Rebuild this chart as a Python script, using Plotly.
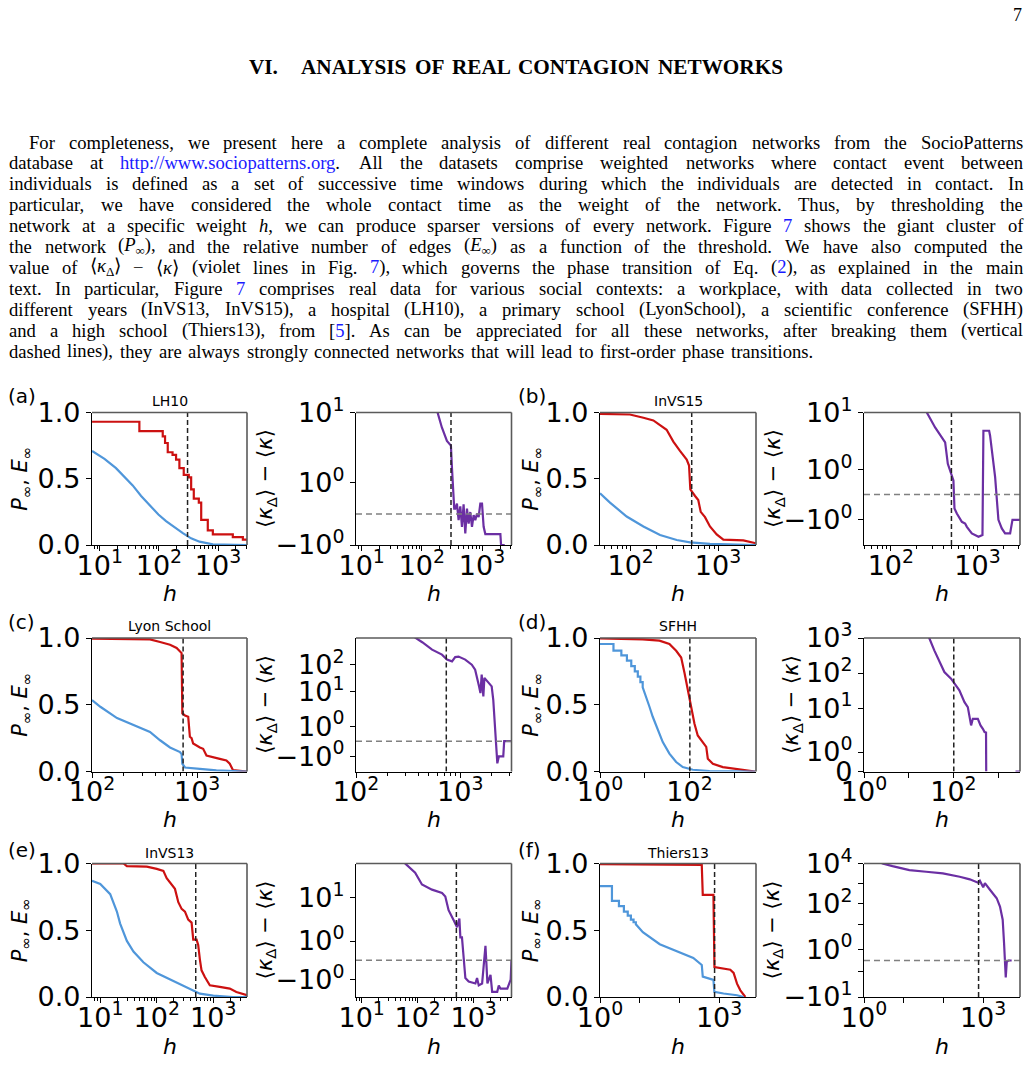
import re
import numpy as np
import plotly.graph_objects as go

FIG_W, FIG_H = 1030, 1089

# ---------------- data ----------------
# Each dataset: P_inf (red), E_inf (blue), <k_Delta>-<k> (violet), threshold h_c
LH10_P_h = [7.4, 46.7, 116, 127, 141, 170, 195, 222, 263, 320, 351, 389, 473, 519, 671, 817, 1778, 2630, 3090]
LH10_P = [0.93, 0.86, 0.82, 0.77, 0.70, 0.68, 0.645, 0.58, 0.53, 0.51, 0.42, 0.35, 0.32, 0.19, 0.11, 0.08, 0.06, 0.04, 0.04]
LH10_E_h = [7.4, 12, 18.8, 27, 36, 50, 69, 98, 132, 185, 254, 350, 486, 817, 3090]
LH10_E = [0.71, 0.65, 0.58, 0.51, 0.45, 0.37, 0.30, 0.23, 0.18, 0.13, 0.09, 0.05, 0.025, 0.005, 0.0]
LH10_K_h = [170, 215, 261, 304, 316, 329, 345, 359, 383, 408, 435, 464, 494, 527, 562, 599, 638, 681, 725, 773,
            826, 878, 937, 1000, 1064, 1135, 2018, 2074, 2384]
LH10_K = [13, 5.4, 3.1, 2.56, 1.5, 0.76, 0.17, 0.17, 0.33, -0.2, 0.245, -0.415, 0.31, -0.63, 0.17, -0.31, 0.06,
          -0.415, -0.04, -0.2, 0.01, -0.1, 0.33, 0.33, -0.415, -0.65, -0.65, -1.0, -1.0]
LH10_hc = 305

InVS15_P_h = [44.6, 98, 140, 182, 258, 308, 367, 419, 438, 466, 482, 546, 594, 634, 710, 809, 966, 1151, 1950, 2704]
InVS15_P = [0.99, 0.985, 0.96, 0.94, 0.87, 0.78, 0.71, 0.66, 0.645, 0.60, 0.42, 0.37, 0.34, 0.25, 0.21, 0.14, 0.08,
            0.04, 0.035, 0.013]
InVS15_E_h = [44.6, 58, 90, 140, 217, 337, 478, 809, 2704]
InVS15_E = [0.39, 0.32, 0.215, 0.14, 0.076, 0.038, 0.02, 0.008, 0.0]
InVS15_K_h = [245, 260, 324, 423, 454, 506, 527, 542, 577, 659, 719, 753, 859, 1026, 1140, 1169, 1361, 1396, 1462,
              1596, 1742, 1905, 2080, 2377, 2529, 3090]
InVS15_K = [13, 10, 4.69, 2.2, 1.22, 0.69, 0.56, -0.55, -0.75, -1.08, -1.145, -1.28, -1.54, -1.67, -1.6, 3.96, 3.96,
            3.08, 1.75, 0.69, -1.0, -1.34, -1.54, -1.54, -1.0, -1.0]
InVS15_hc = 500

Lyon_P_h = [100, 356, 444, 552, 638, 687, 711, 723, 766, 822, 853, 885, 916, 1062, 1140, 1227, 1419, 1641, 1897,
            2042, 2193, 2979]
Lyon_P = [0.995, 0.99, 0.97, 0.95, 0.925, 0.90, 0.887, 0.435, 0.42, 0.41, 0.26, 0.25, 0.21, 0.18, 0.17, 0.12, 0.11,
          0.095, 0.083, 0.058, 0.01, 0.0]
Lyon_E_h = [100, 120, 173, 248, 356, 444, 552, 687, 711, 723, 766, 1062, 1524, 2979]
Lyon_E = [0.535, 0.485, 0.40, 0.347, 0.296, 0.234, 0.18, 0.146, 0.13, 0.058, 0.03, 0.02, 0.008, 0.0]
Lyon_K_h = [330, 367, 432, 537, 668, 746, 834, 895, 964, 1117, 1291, 1390, 1517, 1563, 1607, 1667, 1706, 1862,
            2004, 2075, 2153, 2218, 2270, 2350, 2588, 2642, 3105]
Lyon_K = [1400, 1000, 664, 356, 233, 153, 132, 190, 198, 153, 100, 65.5, 15.9, 9.06, 43, 6.8, 32.7, 21.1, 15.9,
          5.15, 0.97, 0.088, -1.46, -1.0, -1.0, 0.0, 0.0]
Lyon_hc = 735

SFHH_P_h = [1, 9.0, 21.3, 35.6, 50.4, 65.2, 77.3, 91.8, 109, 129, 153, 183, 237, 257, 333, 557, 1563, 2951]
SFHH_P = [0.997, 0.99, 0.98, 0.955, 0.904, 0.854, 0.74, 0.614, 0.487, 0.36, 0.27, 0.235, 0.184, 0.096, 0.058,
          0.033, 0.013, 0.0]
SFHH_E_h = [1, 2, 2, 3, 3, 4, 4, 5, 5, 6, 6, 7, 7, 8, 8, 9, 9, 10, 12.7, 15.1, 19.5, 25.3, 35.6, 50.4, 70.8, 119,
            281, 2951]
SFHH_E = [0.955, 0.955, 0.905, 0.905, 0.87, 0.87, 0.83, 0.83, 0.79, 0.79, 0.75, 0.75, 0.71, 0.71, 0.67, 0.67, 0.63,
          0.59, 0.487, 0.41, 0.31, 0.22, 0.134, 0.071, 0.033, 0.013, 0.003, 0.0]
SFHH_K_h = [26, 28.8, 37.4, 48.4, 62.8, 88.7, 105, 136, 177, 210, 249, 272, 352, 405, 456, 498, 537, 542, None,
            2450, 3090]
SFHH_K = [1300, 1000, 444, 230, 107, 69, 49.6, 32, 14.8, 10.7, 3.2, 4.95, 4.95, 3.2, 2.57, 2.06, 2.0, 0.0, None,
          0.0, 0.0]
SFHH_hc = 102

InVS13_P_h = [7.14, 25.8, 29.6, 66.7, 100, 131, 150, 184, 210, 241, 276, 316, 361, 414, 443, 507, 542, 581, 621,
              711, 871, 1306, 1963, 2570, 3373, 3963]
InVS13_P = [1.0, 1.0, 0.98, 0.977, 0.96, 0.945, 0.89, 0.84, 0.81, 0.71, 0.66, 0.64, 0.58, 0.557, 0.43, 0.43, 0.39,
            0.28, 0.2, 0.15, 0.088, 0.076, 0.063, 0.038, 0.025, 0.013]
InVS13_E_h = [7.14, 10, 15, 19.7, 22.5, 29.6, 38.7, 58, 100, 196, 386, 581, 1000, 2244, 3963]
InVS13_E = [0.87, 0.846, 0.77, 0.64, 0.55, 0.42, 0.34, 0.26, 0.18, 0.12, 0.063, 0.025, 0.01, 0.0, 0.0]
InVS13_K_h = [50, 59.7, 90, 119, 180, 272, 311, 356, 439, 504, 555, 578, 617, 662, 710, 813, 1072, 1148, 1230,
              1413, 1622, 1690, 1758, 1995, 2138, 2630, 2805, 3006, 3981, 4571, 4732]
InVS13_K = [140, 95, 52, 23.6, 16.8, 13.4, 10.7, 4.3, 2.2, 1.72, 2.46, 1.19, 1.19, -0.04, -0.92, -1.1, -1.2, -0.92,
            -1.3, -1.2, 0.75, -0.22, -1.2, -0.75, -1.63, -1.63, -1.3, -1.47, -1.47, -1.0, 0.0]
InVS13_hc = 490

Thiers_P_h = [1, 366, 388, 721, 764, 1914, 2323, 2831, 3436, 4169, 4592]
Thiers_P = [0.995, 0.99, 0.765, 0.765, 0.224, 0.204, 0.18, 0.10, 0.05, 0.013, 0.0]
Thiers_E_h = [1, 2, 2, 3, 3, 4, 4, 5, 5, 6, 6, 7, 7, 8, 8, 12, 32, 85, 224, 366, 388, 721, 760, 1294, 2831, 4169]
Thiers_E = [0.83, 0.83, 0.72, 0.72, 0.68, 0.68, 0.64, 0.64, 0.61, 0.61, 0.58, 0.58, 0.56, 0.56, 0.545, 0.485,
            0.395, 0.344, 0.293, 0.24, 0.153, 0.128, 0.038, 0.026, 0.013, 0.0]
Thiers_K_h = [2.5, 2.92, 5.22, 13.9, 36.8, 97, 258, 462, 752, 830, 1007, 1112, 1489, 2203, 2667, 3119, 3373, 3516,
              3724, 3945, 4365, 5248]
Thiers_K = [12000, 10000, 7400, 4700, 3890, 3220, 2210, 1640, 1120, 1400, 660, 1060, 500, 190, 74, 16.3, 1.58,
            -0.05, -1.52, -0.13, 0.0, 0.0]
Thiers_hc = 770

TITLES = ["LH10", "InVS15", "Lyon School", "SFHH", "InVS13", "Thiers13"]
LETTERS = ["(a)", "(b)", "(c)", "(d)", "(e)", "(f)"]

RED, BLUE, PURPLE = "#cc1111", "#4f96da", "#6b2fa3"

# ---------------- geometry ----------------
COL_X = [(92, 247), (356, 511.5), (600, 756), (864, 1020)]
ROW_Y = [(412.5, 545), (638, 771.5), (863.5, 997)]


def symlog(v, c=2.0):
    out = []
    adj = 1.0 / (1.0 - 0.1)
    for x in v:
        if x is None:
            out.append(None)
            continue
        a = abs(x)
        if a <= c:
            out.append(x / c * adj)
        else:
            out.append(float(np.sign(x)) * (adj + np.log10(a / c)))
    return out


def sup_label(e):
    return "10<sup>%d</sup>" % e


def neg_label(e):
    return "\u221210<sup>%d</sup>" % e


datasets = [
    dict(P_h=LH10_P_h, P=LH10_P, P_shape="hv", E_h=LH10_E_h, E=LH10_E, K_h=LH10_K_h, K=LH10_K, hc=LH10_hc,
         xl=(0.868, 3.49), xr=(0.905, 3.49), klim=(-1, 10),
         kt=[(-1, neg_label(0)), (1, sup_label(0)), (10, sup_label(1))], xlab=[1, 2, 3], xun=[], minor=True,
         kx=266),
    dict(P_h=InVS15_P_h, P=InVS15_P, P_shape="linear", E_h=InVS15_E_h, E=InVS15_E, K_h=InVS15_K_h, K=InVS15_K,
         hc=InVS15_hc, xl=(1.649, 3.435), xr=(1.69, 3.49), klim=(-2, 10),
         kt=[(-1, neg_label(0)), (1, sup_label(0)), (10, sup_label(1))], xlab=[2, 3], xun=[], minor=True, kx=774),
    dict(P_h=Lyon_P_h, P=Lyon_P, P_shape="linear", E_h=Lyon_E_h, E=Lyon_E, K_h=Lyon_K_h, K=Lyon_K, hc=Lyon_hc,
         xl=(2.0, 3.474), xr=(2.0, 3.492), klim=(-2, 950),
         kt=[(-1, neg_label(0)), (1, sup_label(0)), (10, sup_label(1)), (100, sup_label(2))], xlab=[2, 3], xun=[],
         minor=True, kx=266),
    dict(P_h=SFHH_P_h, P=SFHH_P, P_shape="linear", E_h=SFHH_E_h, E=SFHH_E, K_h=SFHH_K_h, K=SFHH_K, hc=SFHH_hc,
         xl=(0.0, 3.487), xr=(0.0, 3.49), klim=(0, 1000),
         kt=[(0, "0"), (1, sup_label(0)), (10, sup_label(1)), (100, sup_label(2)), (1000, sup_label(3))],
         xlab=[0, 2], xun=[1, 3], minor=False, kx=792),
    dict(P_h=InVS13_P_h, P=InVS13_P, P_shape="linear", E_h=InVS13_E_h, E=InVS13_E, K_h=InVS13_K_h, K=InVS13_K,
         hc=InVS13_hc, xl=(0.854, 3.598), xr=(0.898, 3.675), klim=(-1.9, 95),
         kt=[(-1, neg_label(0)), (1, sup_label(0)), (10, sup_label(1))], xlab=[1, 2, 3], xun=[], minor=True,
         kx=266),
    dict(P_h=Thiers_P_h, P=Thiers_P, P_shape="linear", E_h=Thiers_E_h, E=Thiers_E, K_h=Thiers_K_h, K=Thiers_K,
         hc=Thiers_hc, xl=(0.0, 3.93), xr=(0.0, 3.93), klim=(-10, 10000),
         kt=[(-10, neg_label(1)), (-1, ""), (1, sup_label(0)), (10, ""), (100, sup_label(2)), (1000, ""),
             (10000, sup_label(4))], xlab=[0, 3], xun=[1, 2], minor=False, kx=773),
]

fig = go.Figure()
layout = {}
annotations = []
shapes = []

TICKFONT = dict(family="DejaVu Sans", size=27, color="black")


def ax_names(i):
    return ("xaxis" if i == 1 else "xaxis%d" % i, "yaxis" if i == 1 else "yaxis%d" % i,
            "x" if i == 1 else "x%d" % i, "y" if i == 1 else "y%d" % i)


def xaxis_dict(col, rng, ds, anchor):
    lo, hi = rng
    vals = [10.0 ** e for e in ds["xlab"]] + [10.0 ** e for e in ds["xun"]]
    txt = [sup_label(e) for e in ds["xlab"]] + ["" for _ in ds["xun"]]
    d = dict(type="log", domain=[COL_X[col][0] / FIG_W, COL_X[col][1] / FIG_W], range=[lo, hi],
             tickmode="array", tickvals=vals, ticktext=txt, ticks="outside", ticklen=5, tickwidth=1.2,
             tickcolor="black", showline=True, linecolor="black", linewidth=1.3, showgrid=False, zeroline=False,
             tickfont=TICKFONT, tickangle=0, anchor=anchor, automargin=False, ticklabelstandoff=-9)
    if ds["minor"]:
        mv = []
        for e in range(int(np.floor(lo)), int(np.ceil(hi)) + 1):
            for m in range(2, 10):
                v = m * 10.0 ** e
                if lo <= np.log10(v) <= hi:
                    mv.append(v)
        d["minor"] = dict(tickmode="array", tickvals=mv, ticks="outside", ticklen=3, tickwidth=0.9,
                          tickcolor="black", showgrid=False)
    return d


def yaxis_base(row, anchor):
    return dict(domain=[1 - ROW_Y[row][1] / FIG_H, 1 - ROW_Y[row][0] / FIG_H], ticks="outside", ticklen=5,
                tickwidth=1.2, tickcolor="black", showline=True, linecolor="black", linewidth=1.3, showgrid=False,
                zeroline=False, tickfont=TICKFONT, anchor=anchor, automargin=False, tickmode="array")


def frame(col, row):
    x0, x1 = COL_X[col][0] / FIG_W, COL_X[col][1] / FIG_W
    y0, y1 = 1 - ROW_Y[row][1] / FIG_H, 1 - ROW_Y[row][0] / FIG_H
    for (a, b, c, d) in [(x0, y1, x1, y1), (x1, y0, x1, y1)]:
        shapes.append(dict(type="line", xref="paper", yref="paper", x0=a, y0=b, x1=c, y1=d,
                           line=dict(color="#5a5a5a", width=1.6), layer="above"))


def ann(x, y, text, size, family="DejaVu Sans", angle=0, xanchor="center", yanchor="middle", color="black"):
    annotations.append(dict(x=x / FIG_W, y=1 - y / FIG_H, xref="paper", yref="paper", text=text, showarrow=False,
                            font=dict(family=family, size=size, color=color), textangle=angle, xanchor=xanchor,
                            yanchor=yanchor, borderpad=0))


ROW_TITLE_Y = [401, 626, 853]
ROW_LETTER_Y = [396, 622, 850]
ROW_H_Y = [593, 819, 1046]

for k, ds in enumerate(datasets):
    row, pair = k // 2, (k % 2) * 2
    iL = row * 4 + pair + 1
    iR = iL + 1
    xnL, ynL, xL, yL = ax_names(iL)
    xnR, ynR, xR, yR = ax_names(iR)

    # ---- left panel: P_inf and E_inf ----
    fig.add_trace(go.Scatter(x=ds["P_h"], y=ds["P"], mode="lines", line=dict(color=RED, width=2.2,
                             shape=ds["P_shape"]), xaxis=xL, yaxis=yL, showlegend=False))
    fig.add_trace(go.Scatter(x=ds["E_h"], y=ds["E"], mode="lines", line=dict(color=BLUE, width=2.2),
                             xaxis=xL, yaxis=yL, showlegend=False))
    fig.add_trace(go.Scatter(x=[ds["hc"], ds["hc"]], y=[0, 1], mode="lines",
                             line=dict(color="#222222", width=1.5, dash="5px,3px"), xaxis=xL, yaxis=yL,
                             showlegend=False))
    layout[xnL] = xaxis_dict(pair, ds["xl"], ds, yL)
    yl = yaxis_base(row, xL)
    yl.update(range=[0, 1], tickvals=[0, 0.5, 1], ticktext=["0.0", "0.5", "1.0"])
    layout[ynL] = yl

    # ---- right panel: <k_Delta> - <k> on a symlog scale ----
    klo, khi = ds["klim"]
    Tlo, Thi = symlog([klo, khi])
    fig.add_trace(go.Scatter(x=ds["K_h"], y=symlog(ds["K"]), mode="lines", line=dict(color=PURPLE, width=2.2),
                             xaxis=xR, yaxis=yR, showlegend=False, connectgaps=False))
    if klo < 0:
        fig.add_trace(go.Scatter(x=[10 ** ds["xr"][0], 10 ** ds["xr"][1]], y=[0, 0], mode="lines",
                                 line=dict(color="#808080", width=1.5, dash="6px,4px"), xaxis=xR, yaxis=yR,
                                 showlegend=False))
    fig.add_trace(go.Scatter(x=[ds["hc"], ds["hc"]], y=[Tlo, Thi], mode="lines",
                             line=dict(color="#222222", width=1.5, dash="5px,3px"), xaxis=xR, yaxis=yR,
                             showlegend=False))
    layout[xnR] = xaxis_dict(pair + 1, ds["xr"], ds, yR)
    yr = yaxis_base(row, xR)
    yr.update(range=[Tlo, Thi], tickvals=symlog([v for v, _ in ds["kt"]]),
              ticktext=[t for _, t in ds["kt"]])
    layout[ynR] = yr

    frame(pair, row)
    frame(pair + 1, row)

    # ---- texts ----
    cxL = (COL_X[pair][0] + COL_X[pair][1]) / 2
    cxR = (COL_X[pair + 1][0] + COL_X[pair + 1][1]) / 2
    cy = (ROW_Y[row][0] + ROW_Y[row][1]) / 2
    ann(cxL, ROW_TITLE_Y[row], TITLES[k], 14)
    ann(7 + pair * 255, ROW_LETTER_Y[row], LETTERS[k], 20, xanchor="left")
    ann(cxL, ROW_H_Y[row], "<i>h</i>", 22)
    ann(cxR, ROW_H_Y[row], "<i>h</i>", 22)
    ann(21 + pair * 255.5, cy, "<i>P</i><sub>\u221e</sub>, <i>E</i><sub>\u221e</sub>", 21, angle=-90)
    ann(ds["kx"], cy, "\u27e8<i>\u03ba</i><sub>\u0394</sub>\u27e9 \u2212 \u27e8<i>\u03ba</i>\u27e9", 21, angle=-90)

# ---------------- page text (LaTeX page) ----------------
CW = {' ': 250, ',': 250, '.': 250, ':': 278, ';': 278, '(': 333, ')': 333, '[': 333, ']': 333, '/': 278,
      '-': 333, '0': 500, '1': 500, '2': 500, '3': 500, '4': 500, '5': 500, '6': 500, '7': 500, '8': 500, '9': 500,
      'A': 722, 'B': 667, 'C': 667, 'D': 722, 'E': 611, 'F': 556, 'G': 722, 'H': 722, 'I': 333, 'J': 389, 'K': 722,
      'L': 611, 'M': 889, 'N': 722, 'O': 722, 'P': 556, 'Q': 722, 'R': 667, 'S': 556, 'T': 611, 'U': 722, 'V': 722,
      'W': 944, 'X': 722, 'Y': 722, 'Z': 611, 'a': 444, 'b': 500, 'c': 444, 'd': 500, 'e': 444, 'f': 333, 'g': 500,
      'h': 500, 'i': 278, 'j': 278, 'k': 500, 'l': 278, 'm': 778, 'n': 500, 'o': 500, 'p': 500, 'q': 500, 'r': 333,
      's': 389, 't': 278, 'u': 500, 'v': 500, 'w': 722, 'x': 500, 'y': 500, 'z': 444, '\u221e': 713, '\u03ba': 550,
      '\u0394': 612, '\u27e8': 333, '\u27e9': 333, '\u2212': 564}
CWB = {'A': 722, 'C': 722, 'E': 667, 'F': 611, 'G': 778, 'I': 389, 'K': 778, 'L': 667, 'N': 722, 'O': 778, 'R': 722,
       'S': 556, 'T': 667, 'V': 722, 'W': 1000, 'Y': 722, '.': 250}


def word_em(html, table=CW):
    total, scale = 0.0, 1.0
    for part in re.split(r'(<[^>]+>)', html):
        if part.startswith('<'):
            if part == '<sub>':
                scale = 0.7
            elif part == '</sub>':
                scale = 1.0
            continue
        for ch in part:
            total += table.get(ch, CW.get(ch, 500)) * scale
    return total / 1000.0


BLUE_LINK = "#1a1aff"


def prep(word):
    return re.sub(r'\{\{(.+?)\}\}', lambda m: "<span style='color:%s'>%s</span>" % (BLUE_LINK, m.group(1)), word)


PARA = [
    "For completeness, we present here a complete analysis of different real contagion networks from the SocioPatterns",
    "database at {{http://www.sociopatterns.org}}. All the datasets comprise weighted networks where contact event between",
    "individuals is defined as a set of successive time windows during which the individuals are detected in contact. In",
    "particular, we have considered the whole contact time as the weight of the network. Thus, by thresholding the",
    "network at a specific weight <i>h</i>, we can produce sparser versions of every network. Figure {{7}} shows the giant cluster of",
    "the network (<i>P</i><sub>\u221e</sub>), and the relative number of edges (<i>E</i><sub>\u221e</sub>) as a function of the threshold. We have also computed the",
    "value of \u27e8<i>\u03ba</i><sub>\u0394</sub>\u27e9 \u2212 \u27e8<i>\u03ba</i>\u27e9 (violet lines in Fig. {{7}}), which governs the phase transition of Eq. ({{2}}), as explained in the main",
    "text. In particular, Figure {{7}} comprises real data for various social contexts: a workplace, with data collected in two",
    "different years (InVS13, InVS15), a hospital (LH10), a primary school (LyonSchool), a scientific conference (SFHH)",
    "and a high school (Thiers13), from [{{5}}]. As can be appreciated for all these networks, after breaking them (vertical",
    "dashed lines), they are always strongly connected networks that will lead to first-order phase transitions.",
]
LINE_Y0, LINE_DY = 142, 20.9
X_LEFT, X_RIGHT, INDENT = 8, 1022, 20

words_all = [[prep(w) for w in line.split(" ")] for line in PARA]
FS = 18.6

for i, ws in enumerate(words_all):
    x0 = X_LEFT + (INDENT if i == 0 else 0)
    tw = X_RIGHT - x0
    widths = [word_em(w) * FS for w in ws]
    if i < len(words_all) - 1:
        gap = (tw - sum(widths)) / (len(ws) - 1)
    else:
        gap = 0.36 * FS
    x = x0
    y = LINE_Y0 + i * LINE_DY
    for w, wd in zip(ws, widths):
        ann(x, y, w, FS, family="Liberation Serif", xanchor="left")
        x += wd + gap

# heading
hw = "ANALYSIS OF REAL CONTAGION NETWORKS".split(" ")
hem = sum(word_em(w, CWB) for w in hw)
HS = round((782 - 300) / (hem + 0.33 * (len(hw) - 1)), 2)
ann(248, 67, "<b>VI.</b>", HS, family="Liberation Serif", xanchor="left")
hwid = [word_em(w, CWB) * HS for w in hw]
hgap = (782 - 300 - sum(hwid)) / (len(hw) - 1)
x = 300
for w, wd in zip(hw, hwid):
    ann(x, 67, "<b>%s</b>" % w, HS, family="Liberation Serif", xanchor="left")
    x += wd + hgap
ann(1017, 15, "7", 18, family="Liberation Serif")

layout.update(dict(width=FIG_W, height=FIG_H, margin=dict(l=0, r=0, t=0, b=0), paper_bgcolor="white",
                   plot_bgcolor="white", template="none", showlegend=False, annotations=annotations, shapes=shapes))
fig.update_layout(**layout)
fig.write_html("out.html")
